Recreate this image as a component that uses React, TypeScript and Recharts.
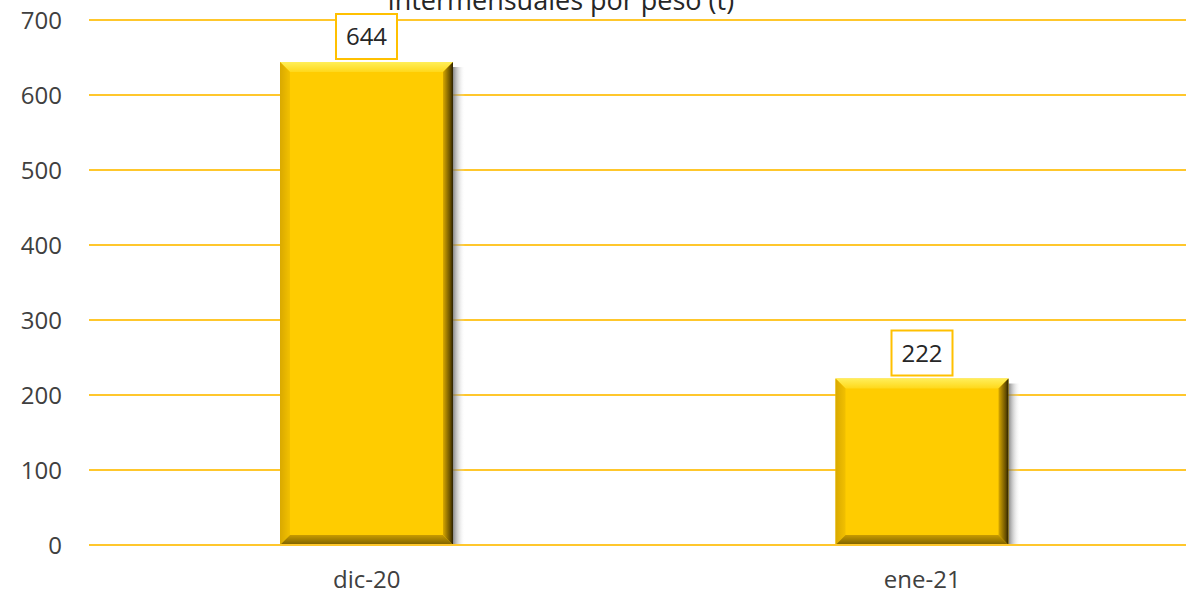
import { BarChart, Bar, XAxis, YAxis, CartesianGrid, LabelList } from 'recharts'

const months = ['dic-20', 'ene-21']
const tonnes = [644, 222]
const yTicks = [0, 100, 200, 300, 400, 500, 600, 700]
const title = 'intermensuales por peso (t)'

const data = months.map((m, i) => ({ month: m, value: tonnes[i] }))

const FONT = '"Open Sans", sans-serif'

// bevelled bar like the office "3D" look
const BevelBar = (props: any) => {
  const { x, y, width: w, height: h } = props
  if (!h || h <= 0) return null
  const b = 10
  return (
    <g>
      <rect x={x + w} y={y + 5} width={12} height={h - 5} fill="url(#shadowGrad)" />
      <rect x={x} y={y} width={w} height={h} fill="#FFCC00" />
      <polygon points={`${x},${y} ${x + w},${y} ${x + w - b},${y + b} ${x + b},${y + b}`} fill="url(#topGrad)" />
      <polygon points={`${x},${y} ${x + b},${y + b} ${x + b},${y + h - b} ${x},${y + h}`} fill="url(#leftGrad)" />
      <polygon points={`${x},${y + h} ${x + b},${y + h - b} ${x + w - b},${y + h - b} ${x + w},${y + h}`} fill="url(#bottomGrad)" />
      <polygon points={`${x + w},${y} ${x + w},${y + h} ${x + w - b},${y + h - b} ${x + w - b},${y + b}`} fill="url(#rightGrad)" />
    </g>
  )
}

const BoxLabel = (props: any) => {
  const { x, y, width, value } = props
  const cx = x + width / 2
  const bw = 61
  const bh = 45
  const gap = 3
  return (
    <g>
      <rect x={cx - bw / 2} y={y - gap - bh} width={bw} height={bh} fill="#fff" stroke="#FFC000" strokeWidth={2} />
      <text x={cx} y={y - gap - bh / 2} dy="0.36em" textAnchor="middle" fontFamily={FONT} fontSize={24} fill="#262626">
        {value}
      </text>
    </g>
  )
}

export default function App() {
  return (
    <div style={{ position: 'absolute', left: 0, top: 0, width: 1186, height: 596, overflow: 'hidden', background: '#fff' }}>
      <div
        style={{
          position: 'absolute',
          left: 0,
          width: 1122,
          top: -15,
          textAlign: 'center',
          fontFamily: FONT,
          fontSize: 27,
          color: '#262626',
          lineHeight: '30px',
        }}
      >
        {title}
      </div>
      <BarChart width={1200} height={596} data={data} margin={{ top: 20, right: 0, left: 0, bottom: 0 }}>
        <defs>
          <linearGradient id="topGrad" x1="0" y1="0" x2="0" y2="1">
            <stop offset="0%" stopColor="#FFEF5A" />
            <stop offset="100%" stopColor="#FFD81A" />
          </linearGradient>
          <linearGradient id="leftGrad" x1="0" y1="0" x2="1" y2="0">
            <stop offset="0%" stopColor="#D9A900" />
            <stop offset="100%" stopColor="#F2C000" />
          </linearGradient>
          <linearGradient id="bottomGrad" x1="0" y1="0" x2="0" y2="1">
            <stop offset="0%" stopColor="#C89B00" />
            <stop offset="100%" stopColor="#7A5F00" />
          </linearGradient>
          <linearGradient id="rightGrad" x1="0" y1="0" x2="1" y2="0">
            <stop offset="0%" stopColor="#D8A800" />
            <stop offset="70%" stopColor="#6B5200" />
            <stop offset="100%" stopColor="#2A2000" />
          </linearGradient>
          <linearGradient id="shadowGrad" x1="0" y1="0" x2="1" y2="0">
            <stop offset="0%" stopColor="#6b6b6b" stopOpacity={0.8} />
            <stop offset="100%" stopColor="#ffffff" stopOpacity={0} />
          </linearGradient>
        </defs>
        <CartesianGrid vertical={false} stroke="#FFC72C" strokeWidth={2} />
        <XAxis
          dataKey="month"
          axisLine={{ stroke: '#FFC72C', strokeWidth: 2 }}
          tickLine={false}
          height={51}
          tickMargin={20}
          tick={{ fontFamily: FONT, fontSize: 24, fill: '#404040' }}
        />
        <YAxis
          domain={[0, 700]}
          ticks={yTicks}
          width={89}
          axisLine={false}
          tickLine={false}
          tickMargin={21}
          tick={{ fontFamily: FONT, fontSize: 24, fill: '#404040' }}
        />
        <Bar dataKey="value" barSize={173} shape={<BevelBar />} isAnimationActive={false}>
          <LabelList dataKey="value" content={<BoxLabel />} />
        </Bar>
      </BarChart>
    </div>
  )
}
